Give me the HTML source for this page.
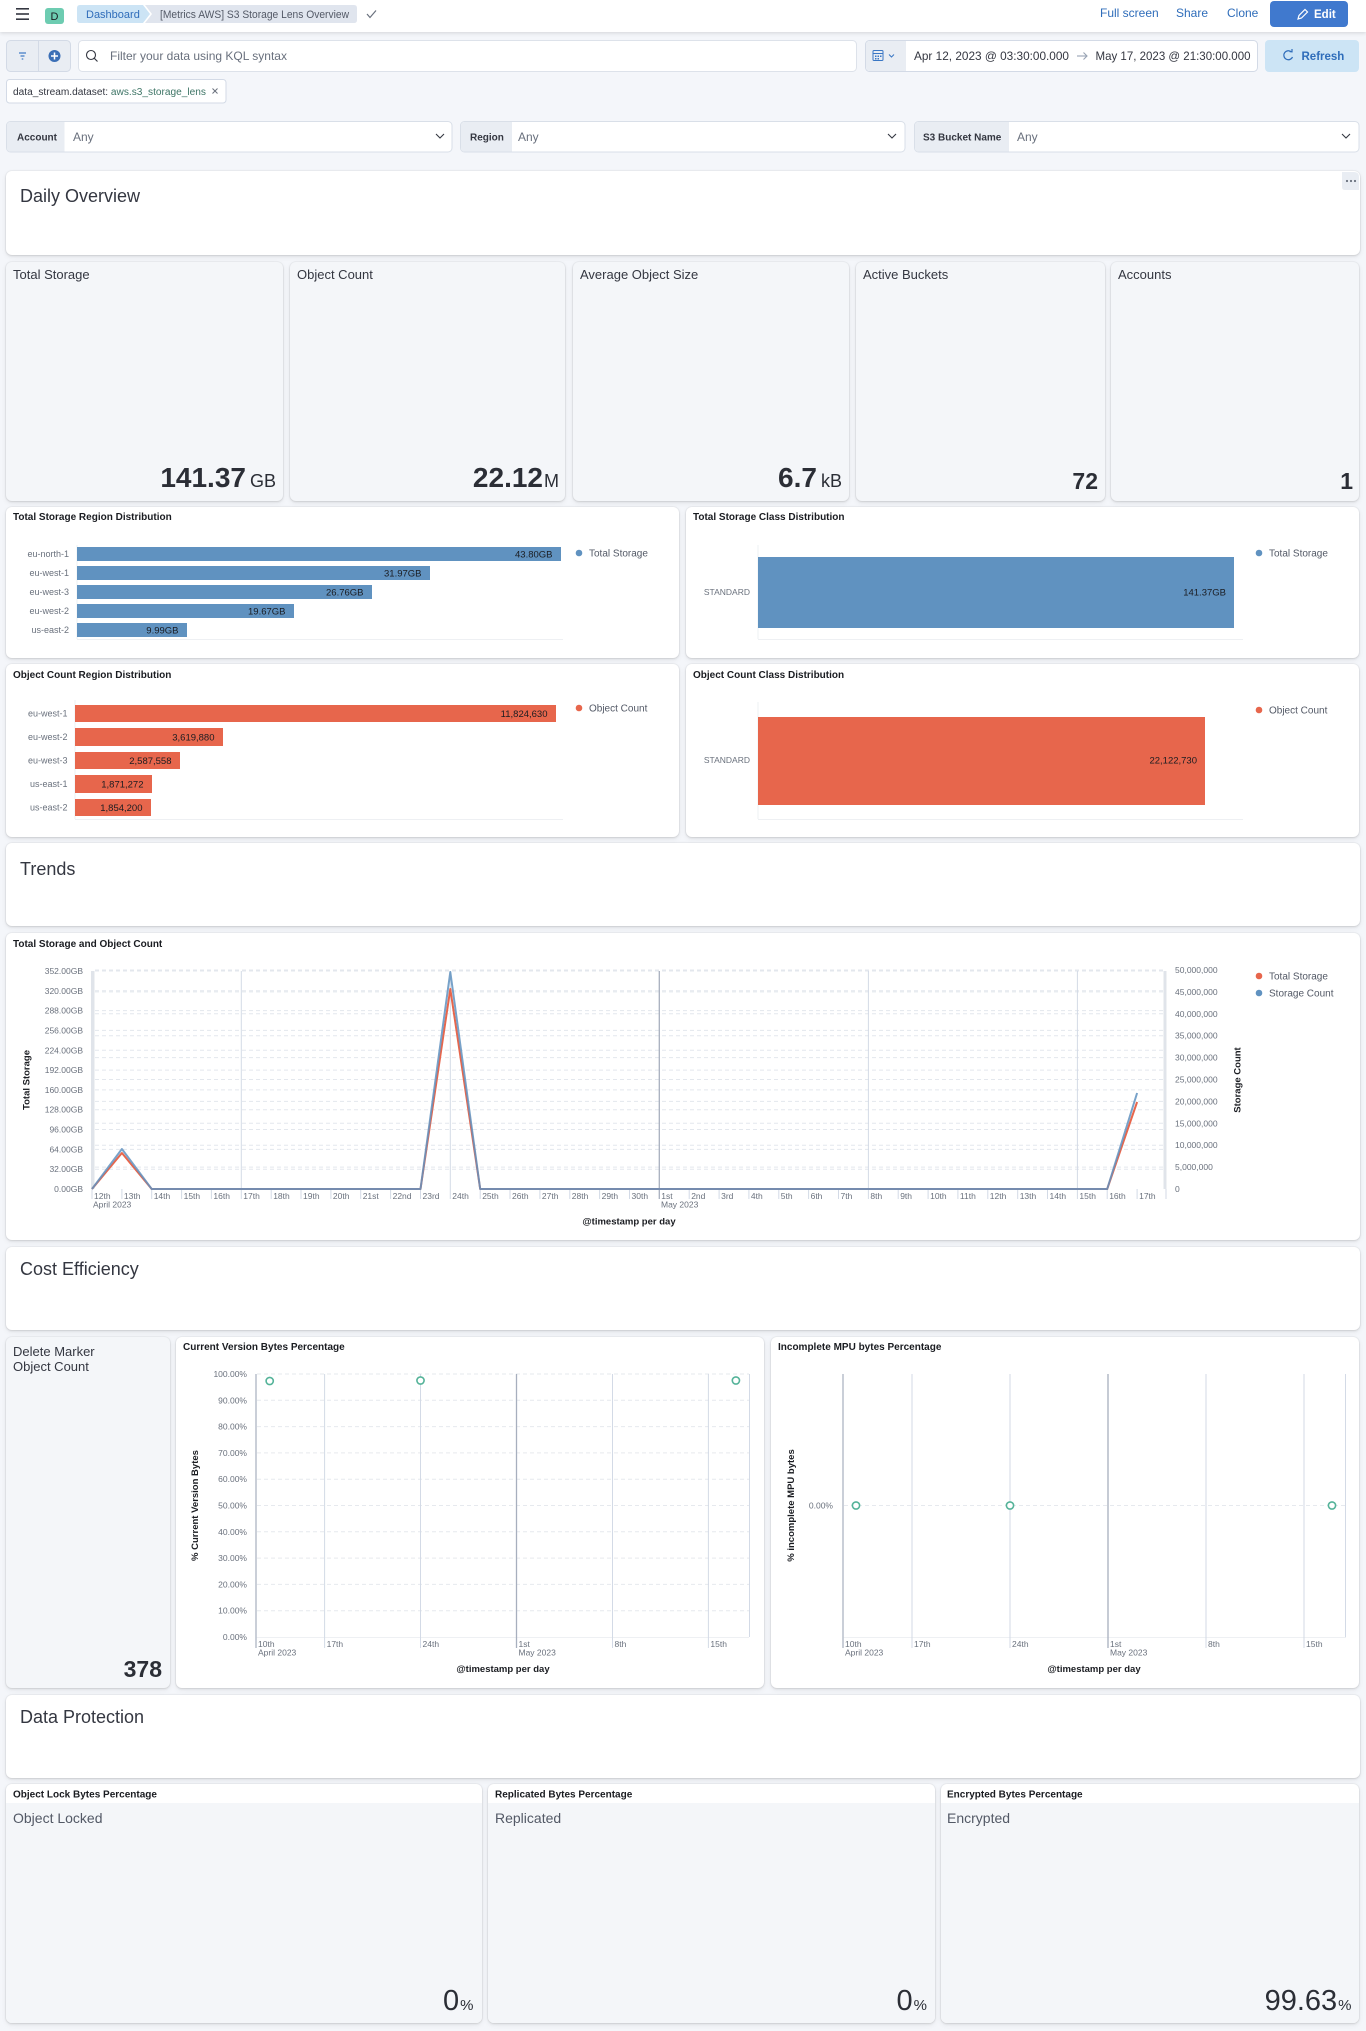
<!DOCTYPE html>
<html><head><meta charset="utf-8">
<style>
*{box-sizing:border-box;margin:0;padding:0}
html,body{width:1366px;height:2031px;overflow:hidden}
body{position:relative;background:#F4F6FA;font-family:"Liberation Sans",Arial,sans-serif;color:#343741}
.hdr{position:absolute;left:0;top:0;width:1366px;height:32px;background:#fff;box-shadow:0 1px 4px rgba(0,0,0,.14)}
.p{position:absolute;border-radius:6px;background:#fff;box-shadow:0 0 0 1px rgba(0,0,0,.03),0 1px 2px rgba(0,0,0,.09),0 2px 6px rgba(0,0,0,.07)}
.g{background:#F4F6F9}
.gb{position:absolute;left:0;right:0;bottom:0;top:19px;background:#F4F6F9;border-radius:0 0 6px 6px}
svg.ov{position:absolute;left:0;top:0}
</style></head><body>
<div class="hdr"></div>

<div class="p" style="left:6px;top:171px;width:1354px;height:84px"></div>
<div class="p g" style="left:6px;top:262px;width:277px;height:239px"></div>
<div class="p g" style="left:290px;top:262px;width:275px;height:239px"></div>
<div class="p g" style="left:573px;top:262px;width:276px;height:239px"></div>
<div class="p g" style="left:856px;top:262px;width:249px;height:239px"></div>
<div class="p g" style="left:1111px;top:262px;width:248px;height:239px"></div>
<div class="p" style="left:6px;top:507px;width:673px;height:151px"></div>
<div class="p" style="left:686px;top:507px;width:673px;height:151px"></div>
<div class="p" style="left:6px;top:664px;width:673px;height:173px"></div>
<div class="p" style="left:686px;top:664px;width:673px;height:173px"></div>
<div class="p" style="left:6px;top:843px;width:1354px;height:83px"></div>
<div class="p" style="left:6px;top:933px;width:1354px;height:307px"></div>
<div class="p" style="left:6px;top:1247px;width:1354px;height:83px"></div>
<div class="p g" style="left:6px;top:1337px;width:164px;height:351px"></div>
<div class="p" style="left:176px;top:1337px;width:588px;height:351px"></div>
<div class="p" style="left:771px;top:1337px;width:588px;height:351px"></div>
<div class="p" style="left:6px;top:1695px;width:1354px;height:83px"></div>
<div class="p" style="left:6px;top:1784px;width:476px;height:239px"><div class="gb"></div></div>
<div class="p" style="left:488px;top:1784px;width:447px;height:239px"><div class="gb"></div></div>
<div class="p" style="left:941px;top:1784px;width:418px;height:239px"><div class="gb"></div></div>

<svg class="ov" width="1366" height="2031" viewBox="0 0 1366 2031" font-family="'Liberation Sans', Arial, sans-serif">
<!-- ===== HEADER ===== -->
<g fill="#343741"><rect x="16" y="8" width="13" height="1.6"/><rect x="16" y="13.2" width="13" height="1.6"/><rect x="16" y="18.4" width="13" height="1.6"/></g>
<rect x="45" y="8" width="19" height="16" rx="3" fill="#6DCCB1"/>
<text x="54.5" y="20" font-size="11" text-anchor="middle" fill="#1a1c21">D</text>
<path d="M145,5 H354 Q357,5 357,8 V20 Q357,23 354,23 H145 L152,14 Z" fill="#E0E5EE"/>
<path d="M80,5 H143 L150,14 L143,23 H80 Q77,23 77,20 V8 Q77,5 80,5 Z" fill="#CCE4F5"/>
<text x="86" y="18" font-size="11" fill="#2F6DBA">Dashboard</text>
<text x="160" y="18" font-size="11" fill="#535966" textLength="189" lengthAdjust="spacingAndGlyphs">[Metrics AWS] S3 Storage Lens Overview</text>
<polyline points="367,14 370,17.5 376,10.5" fill="none" stroke="#69707D" stroke-width="1.2"/>
<text x="1100" y="17" font-size="12" fill="#2F6DBA">Full screen</text>
<text x="1176" y="17" font-size="12" fill="#2F6DBA">Share</text>
<text x="1227" y="17" font-size="12" fill="#2F6DBA">Clone</text>
<rect x="1270" y="1" width="78" height="26" rx="4" fill="#4079CE"/>
<path d="M1298,19 L1299,15.5 L1305,9.5 L1307.5,12 L1301.5,18 Z" fill="none" stroke="#fff" stroke-width="1.2"/>
<text x="1314" y="18" font-size="11.5" font-weight="bold" fill="#fff">Edit</text>

<!-- ===== QUERY BAR ===== -->
<rect x="6.5" y="40.5" width="64" height="31" rx="4" fill="#E9EDF3" stroke="#D3DAE6"/>
<line x1="38.5" y1="41" x2="38.5" y2="71" stroke="#D3DAE6"/>
<g stroke="#3A77C4" stroke-width="1.2"><line x1="19" y1="53" x2="26" y2="53"/><line x1="20.5" y1="56" x2="24.5" y2="56"/><line x1="21.7" y1="59" x2="23.3" y2="59"/></g>
<circle cx="54.5" cy="56" r="6" fill="#3B6FB6"/>
<g stroke="#fff" stroke-width="1.5"><line x1="51" y1="56" x2="58" y2="56"/><line x1="54.5" y1="52.5" x2="54.5" y2="59.5"/></g>
<rect x="78.5" y="40.5" width="778" height="31" rx="4" fill="#fff" stroke="#DDE2EA"/>
<circle cx="91" cy="55" r="4.5" fill="none" stroke="#343741" stroke-width="1.1"/>
<line x1="94.3" y1="58.3" x2="97.5" y2="61.5" stroke="#343741" stroke-width="1.1"/>
<text x="110" y="60" font-size="12" fill="#69707D">Filter your data using KQL syntax</text>

<rect x="865.5" y="40.5" width="392" height="31" rx="4" fill="#fff" stroke="#D3DAE6"/>
<path d="M869.5,41 H906 V71 H869.5 Q866,71 866,67 V45 Q866,41 869.5,41 Z" fill="#E9EDF3"/>
<rect x="873" y="50.5" width="10" height="10" rx="1" fill="none" stroke="#3A77C4"/>
<line x1="873" y1="53.5" x2="883" y2="53.5" stroke="#3A77C4"/>
<g fill="#3A77C4"><rect x="875" y="55.5" width="1.5" height="1.5"/><rect x="877.5" y="55.5" width="1.5" height="1.5"/><rect x="880" y="55.5" width="1.5" height="1.5"/><rect x="875" y="58" width="1.5" height="1.5"/><rect x="877.5" y="58" width="1.5" height="1.5"/></g>
<polyline points="889,54.5 891.5,57 894,54.5" fill="none" stroke="#3A77C4"/>
<text x="914" y="60" font-size="12" fill="#343741" textLength="155" lengthAdjust="spacingAndGlyphs">Apr 12, 2023 @ 03:30:00.000</text>
<g stroke="#98A2B3" stroke-width="1.1" fill="none"><line x1="1077" y1="56" x2="1087" y2="56"/><polyline points="1083.5,52.5 1087,56 1083.5,59.5"/></g>
<text x="1095.5" y="60" font-size="12" fill="#343741" textLength="155" lengthAdjust="spacingAndGlyphs">May 17, 2023 @ 21:30:00.000</text>
<rect x="1265" y="40" width="94" height="32" rx="4" fill="#CCE4F5"/>
<path d="M1291.5,52 A4.5,4.5 0 1 0 1292.5,57" fill="none" stroke="#2F6DBA" stroke-width="1.2"/>
<polyline points="1289.5,51.5 1292,51.8 1292,49" fill="none" stroke="#2F6DBA" stroke-width="1.2"/>
<text x="1301.5" y="60" font-size="11.5" font-weight="bold" fill="#2F6DBA">Refresh</text>

<!-- filter pill -->
<rect x="6.5" y="79.5" width="219.5" height="23.5" rx="3" fill="#fff" stroke="#D3DAE6"/>
<text x="13" y="95" font-size="10" textLength="193" lengthAdjust="spacingAndGlyphs"><tspan fill="#343741">data_stream.dataset: </tspan><tspan fill="#3E7566">aws.s3_storage_lens</tspan></text>
<g stroke="#69707D" stroke-width="1"><line x1="212.5" y1="88.5" x2="217.5" y2="93.5"/><line x1="217.5" y1="88.5" x2="212.5" y2="93.5"/></g>

<!-- controls -->
<rect x="6.5" y="121.5" width="445.5" height="30.5" rx="4" fill="#fff" stroke="#D9DFE8"/>
<path d="M10.5,122 H64.5 V151.5 H10.5 Q7,151.5 7,148 V125.5 Q7,122 10.5,122 Z" fill="#E9EDF3"/>
<text x="17" y="140.5" font-size="10" font-weight="bold" fill="#343741">Account</text>
<text x="73" y="141" font-size="12" fill="#69707D">Any</text>
<polyline points="436,134 440,138 444,134" fill="none" stroke="#343741" stroke-width="1.1"/>
<rect x="460.5" y="121.5" width="444.5" height="30.5" rx="4" fill="#fff" stroke="#D9DFE8"/>
<path d="M464.5,122 H512 V151.5 H464.5 Q461,151.5 461,148 V125.5 Q461,122 464.5,122 Z" fill="#E9EDF3"/>
<text x="470" y="140.5" font-size="10" font-weight="bold" fill="#343741">Region</text>
<text x="518" y="141" font-size="12" fill="#69707D">Any</text>
<polyline points="888,134 892,138 896,134" fill="none" stroke="#343741" stroke-width="1.1"/>
<rect x="914.5" y="121.5" width="444.5" height="30.5" rx="4" fill="#fff" stroke="#D9DFE8"/>
<path d="M918.5,122 H1009 V151.5 H918.5 Q915,151.5 915,148 V125.5 Q915,122 918.5,122 Z" fill="#E9EDF3"/>
<text x="923" y="140.5" font-size="10" font-weight="bold" fill="#343741">S3 Bucket Name</text>
<text x="1017" y="141" font-size="12" fill="#69707D">Any</text>
<polyline points="1342,134 1346,138 1350,134" fill="none" stroke="#343741" stroke-width="1.1"/>

<!-- ===== DAILY OVERVIEW ===== -->
<text x="20" y="202" font-size="18" fill="#343741">Daily Overview</text>
<path d="M1342,172 H1354 Q1359,172 1359,177 V190 H1345 Q1342,190 1342,187 Z" fill="#E9EDF3"/>
<g fill="#69707D"><circle cx="1347" cy="181" r="1.1"/><circle cx="1351" cy="181" r="1.1"/><circle cx="1355" cy="181" r="1.1"/></g>

<g font-size="13" fill="#343741">
<text x="13" y="279">Total Storage</text>
<text x="297" y="279">Object Count</text>
<text x="580" y="279">Average Object Size</text>
<text x="863" y="279">Active Buckets</text>
<text x="1118" y="279">Accounts</text>
</g>
<g fill="#2B2E36">
<text x="276" y="487" text-anchor="end"><tspan font-size="28" font-weight="bold">141.37</tspan><tspan font-size="18" dx="4">GB</tspan></text>
<text x="559" y="487" text-anchor="end"><tspan font-size="28" font-weight="bold">22.12</tspan><tspan font-size="18" dx="1">M</tspan></text>
<text x="842" y="487" text-anchor="end"><tspan font-size="28" font-weight="bold">6.7</tspan><tspan font-size="18" dx="4">kB</tspan></text>
<text x="1098" y="489" text-anchor="end" font-size="23" font-weight="bold">72</text>
<text x="1353" y="489" text-anchor="end" font-size="23" font-weight="bold">1</text>
</g>

<!-- ===== BAR CHARTS ===== -->
<g font-size="10" font-weight="bold" fill="#1a1c21">
<text x="13" y="520">Total Storage Region Distribution</text>
<text x="693" y="520">Total Storage Class Distribution</text>
<text x="13" y="678">Object Count Region Distribution</text>
<text x="693" y="678">Object Count Class Distribution</text>
</g>
<g stroke="#EEF0F3" stroke-width="1">
<line x1="77" y1="545" x2="77" y2="639"/><line x1="77" y1="639.5" x2="563" y2="639.5"/>
<line x1="75" y1="700" x2="75" y2="819"/><line x1="75" y1="819.5" x2="563" y2="819.5"/>
<line x1="758" y1="545" x2="758" y2="639"/><line x1="758" y1="639.5" x2="1243" y2="639.5"/>
<line x1="758" y1="702" x2="758" y2="819"/><line x1="758" y1="819.5" x2="1243" y2="819.5"/>
</g>
<g fill="#6092C0">
<rect x="77" y="547" width="484" height="14"/>
<rect x="77" y="566" width="353" height="14"/>
<rect x="77" y="585" width="295" height="14"/>
<rect x="77" y="604" width="217" height="14"/>
<rect x="77" y="623" width="110" height="14"/>
<rect x="758" y="557" width="476" height="71"/>
</g>
<g fill="#E7664C">
<rect x="75" y="705" width="481" height="17"/>
<rect x="75" y="728" width="148" height="18"/>
<rect x="75" y="752" width="105" height="17"/>
<rect x="75" y="775" width="77" height="18"/>
<rect x="75" y="799" width="76" height="17"/>
<rect x="758" y="717" width="447" height="88"/>
</g>
<g font-size="9" fill="#6A717D" text-anchor="end">
<text x="69" y="557">eu-north-1</text>
<text x="69" y="576">eu-west-1</text>
<text x="69" y="595">eu-west-3</text>
<text x="69" y="614">eu-west-2</text>
<text x="69" y="633">us-east-2</text>
<text x="67.5" y="716.5">eu-west-1</text>
<text x="67.5" y="740">eu-west-2</text>
<text x="67.5" y="763.5">eu-west-3</text>
<text x="67.5" y="787">us-east-1</text>
<text x="67.5" y="810.5">us-east-2</text>
<text x="750" y="595" font-size="8.5">STANDARD</text>
<text x="750" y="763" font-size="8.5">STANDARD</text>
</g>
<g font-size="9.5" fill="#1a1c21" text-anchor="end">
<text x="552.5" y="557.5">43.80GB</text>
<text x="421.5" y="576.5">31.97GB</text>
<text x="363.5" y="595.5">26.76GB</text>
<text x="285.5" y="614.5">19.67GB</text>
<text x="178.5" y="633.5">9.99GB</text>
<text x="547.5" y="717">11,824,630</text>
<text x="214.5" y="740.5">3,619,880</text>
<text x="171.5" y="764">2,587,558</text>
<text x="143.5" y="787.5">1,871,272</text>
<text x="142.5" y="811">1,854,200</text>
<text x="1226" y="595.5">141.37GB</text>
<text x="1197" y="763.5">22,122,730</text>
</g>
<g font-size="10" fill="#535966">
<circle cx="579" cy="553" r="3.3" fill="#6092C0"/><text x="589" y="556.5">Total Storage</text>
<circle cx="579" cy="708" r="3.3" fill="#E7664C"/><text x="589" y="711.5">Object Count</text>
<circle cx="1259" cy="553" r="3.3" fill="#6092C0"/><text x="1269" y="556.5">Total Storage</text>
<circle cx="1259" cy="710" r="3.3" fill="#E7664C"/><text x="1269" y="713.5">Object Count</text>
</g>

<!-- ===== TRENDS ===== -->
<text x="20" y="875" font-size="18" fill="#343741">Trends</text>
<text x="13" y="947" font-size="10" font-weight="bold" fill="#1a1c21">Total Storage and Object Count</text>

<g stroke="#E3E7ED" stroke-width="1" stroke-dasharray="4 3">
<line x1="95" y1="1169.2" x2="1163" y2="1169.2"/><line x1="95" y1="1149.4" x2="1163" y2="1149.4"/>
<line x1="95" y1="1129.5" x2="1163" y2="1129.5"/><line x1="95" y1="1109.7" x2="1163" y2="1109.7"/>
<line x1="95" y1="1089.9" x2="1163" y2="1089.9"/><line x1="95" y1="1070.1" x2="1163" y2="1070.1"/>
<line x1="95" y1="1050.3" x2="1163" y2="1050.3"/><line x1="95" y1="1030.4" x2="1163" y2="1030.4"/>
<line x1="95" y1="1010.6" x2="1163" y2="1010.6"/><line x1="95" y1="990.8" x2="1163" y2="990.8"/>
<line x1="95" y1="971" x2="1163" y2="971"/>
<line x1="95" y1="1167.1" x2="1163" y2="1167.1"/><line x1="95" y1="1145.2" x2="1163" y2="1145.2"/>
<line x1="95" y1="1123.3" x2="1163" y2="1123.3"/><line x1="95" y1="1101.4" x2="1163" y2="1101.4"/>
<line x1="95" y1="1079.5" x2="1163" y2="1079.5"/><line x1="95" y1="1057.6" x2="1163" y2="1057.6"/>
<line x1="95" y1="1035.7" x2="1163" y2="1035.7"/><line x1="95" y1="1013.8" x2="1163" y2="1013.8"/>
<line x1="95" y1="991.9" x2="1163" y2="991.9"/><line x1="95" y1="970" x2="1163" y2="970"/>
</g>
<g stroke="#D3DAE6" stroke-width="1">
<line x1="241.3" y1="971" x2="241.3" y2="1199"/>
<line x1="450.3" y1="971" x2="450.3" y2="1199"/>
<line x1="868.4" y1="971" x2="868.4" y2="1199"/>
<line x1="1077.4" y1="971" x2="1077.4" y2="1199"/>
</g>
<line x1="659.3" y1="971" x2="659.3" y2="1199" stroke="#A7AFBE" stroke-width="1.3"/>
<rect x="91" y="971" width="3.5" height="218" fill="#E0E4EA"/>
<rect x="1163.5" y="971" width="3" height="218" fill="#E0E4EA"/>
<path stroke="#D3DAE6" stroke-width="1" d="M92,1189v10M121.9,1189v10M151.7,1189v10M181.6,1189v10M211.4,1189v10M271.2,1189v10M301,1189v10M330.9,1189v10M360.7,1189v10M390.6,1189v10M420.5,1189v10M480.2,1189v10M510,1189v10M539.9,1189v10M569.8,1189v10M599.6,1189v10M629.5,1189v10M689.2,1189v10M719.1,1189v10M748.9,1189v10M778.8,1189v10M808.6,1189v10M838.5,1189v10M898.2,1189v10M928.1,1189v10M957.9,1189v10M987.8,1189v10M1017.7,1189v10M1047.5,1189v10M1107.2,1189v10M1137.1,1189v10M1166,1189v10"/>
<g font-size="8.5" fill="#6A717D">
<text x="94" y="1199">12th</text><text x="123.9" y="1199">13th</text><text x="153.7" y="1199">14th</text>
<text x="183.6" y="1199">15th</text><text x="213.4" y="1199">16th</text><text x="243.3" y="1199">17th</text>
<text x="273.2" y="1199">18th</text><text x="303" y="1199">19th</text><text x="332.9" y="1199">20th</text>
<text x="362.7" y="1199">21st</text><text x="392.6" y="1199">22nd</text><text x="422.5" y="1199">23rd</text>
<text x="452.3" y="1199">24th</text><text x="482.2" y="1199">25th</text><text x="512" y="1199">26th</text>
<text x="541.9" y="1199">27th</text><text x="571.8" y="1199">28th</text><text x="601.6" y="1199">29th</text>
<text x="631.5" y="1199">30th</text><text x="661.3" y="1199">1st</text><text x="691.2" y="1199">2nd</text>
<text x="721.1" y="1199">3rd</text><text x="750.9" y="1199">4th</text><text x="780.8" y="1199">5th</text>
<text x="810.6" y="1199">6th</text><text x="840.5" y="1199">7th</text><text x="870.4" y="1199">8th</text>
<text x="900.2" y="1199">9th</text><text x="930.1" y="1199">10th</text><text x="959.9" y="1199">11th</text>
<text x="989.8" y="1199">12th</text><text x="1019.7" y="1199">13th</text><text x="1049.5" y="1199">14th</text>
<text x="1079.4" y="1199">15th</text><text x="1109.2" y="1199">16th</text><text x="1139.1" y="1199">17th</text>
<text x="93" y="1207.5">April 2023</text><text x="661" y="1207.5">May 2023</text>
</g>
<g font-size="8.5" fill="#6A717D" text-anchor="end">
<text x="83" y="1192">0.00GB</text><text x="83" y="1172.2">32.00GB</text><text x="83" y="1152.4">64.00GB</text>
<text x="83" y="1132.5">96.00GB</text><text x="83" y="1112.7">128.00GB</text><text x="83" y="1092.9">160.00GB</text>
<text x="83" y="1073.1">192.00GB</text><text x="83" y="1053.3">224.00GB</text><text x="83" y="1033.4">256.00GB</text>
<text x="83" y="1013.6">288.00GB</text><text x="83" y="993.8">320.00GB</text><text x="83" y="974">352.00GB</text>
</g>
<g font-size="8.5" fill="#6A717D">
<text x="1175" y="1192">0</text><text x="1175" y="1170.1">5,000,000</text><text x="1175" y="1148.2">10,000,000</text>
<text x="1175" y="1126.3">15,000,000</text><text x="1175" y="1104.4">20,000,000</text><text x="1175" y="1082.5">25,000,000</text>
<text x="1175" y="1060.6">30,000,000</text><text x="1175" y="1038.7">35,000,000</text><text x="1175" y="1016.8">40,000,000</text>
<text x="1175" y="994.9">45,000,000</text><text x="1175" y="973">50,000,000</text>
</g>
<path d="M92,1189 L121.9,1153 L151.7,1189 L420.5,1189 L450.3,989 L480.2,1189 L1107.2,1189 L1137.1,1102" fill="none" stroke="#E7664C" stroke-width="2" stroke-linejoin="round"/>
<path d="M92,1189 L121.9,1149 L151.7,1189 L420.5,1189 L450.3,972 L480.2,1189 L1107.2,1189 L1137.1,1093" fill="none" stroke="#6092C0" stroke-width="2" stroke-opacity="0.85" stroke-linejoin="round"/>
<text transform="translate(29.5,1080) rotate(-90)" text-anchor="middle" font-size="9.5" font-weight="bold" fill="#1a1c21">Total Storage</text>
<text transform="translate(1240.5,1080) rotate(-90)" text-anchor="middle" font-size="9.5" font-weight="bold" fill="#1a1c21">Storage Count</text>
<text x="629" y="1224.5" text-anchor="middle" font-size="9.5" font-weight="bold" fill="#1a1c21">@timestamp per day</text>
<g font-size="10" fill="#535966">
<circle cx="1259" cy="976" r="3.3" fill="#E7664C"/><text x="1269" y="979.5">Total Storage</text>
<circle cx="1259" cy="993" r="3.3" fill="#6092C0"/><text x="1269" y="996.5">Storage Count</text>
</g>

<!-- ===== COST EFFICIENCY ===== -->
<text x="20" y="1275" font-size="18" fill="#343741">Cost Efficiency</text>
<g font-size="13" fill="#343741"><text x="13" y="1356">Delete Marker</text><text x="13" y="1371">Object Count</text></g>
<text x="162" y="1677" text-anchor="end" font-size="23" font-weight="bold" fill="#2B2E36">378</text>

<g font-size="10" font-weight="bold" fill="#1a1c21">
<text x="183" y="1350">Current Version Bytes Percentage</text>
<text x="778" y="1350">Incomplete MPU bytes Percentage</text>
</g>
<!-- current version chart -->
<g stroke="#E6E9EE" stroke-width="1" stroke-dasharray="4 3">
<line x1="257" y1="1374" x2="749" y2="1374"/><line x1="257" y1="1400.3" x2="749" y2="1400.3"/>
<line x1="257" y1="1426.6" x2="749" y2="1426.6"/><line x1="257" y1="1452.9" x2="749" y2="1452.9"/>
<line x1="257" y1="1479.2" x2="749" y2="1479.2"/><line x1="257" y1="1505.5" x2="749" y2="1505.5"/>
<line x1="257" y1="1531.8" x2="749" y2="1531.8"/><line x1="257" y1="1558.1" x2="749" y2="1558.1"/>
<line x1="257" y1="1584.4" x2="749" y2="1584.4"/><line x1="257" y1="1610.7" x2="749" y2="1610.7"/>
</g>
<line x1="256" y1="1637.5" x2="749" y2="1637.5" stroke="#EEF0F3"/>
<g stroke="#D3DAE6" stroke-width="1">
<line x1="324.6" y1="1374" x2="324.6" y2="1648"/><line x1="420.5" y1="1374" x2="420.5" y2="1648"/>
<line x1="612.5" y1="1374" x2="612.5" y2="1648"/><line x1="708.4" y1="1374" x2="708.4" y2="1648"/>
<line x1="749.5" y1="1374" x2="749.5" y2="1637"/>
</g>
<line x1="516.5" y1="1374" x2="516.5" y2="1648" stroke="#A7AFBE" stroke-width="1.3"/>
<line x1="256" y1="1374" x2="256" y2="1648" stroke="#B8BFCB" stroke-width="1.5"/>
<g font-size="8.5" fill="#6A717D" text-anchor="end">
<text x="247" y="1640">0.00%</text><text x="247" y="1613.7">10.00%</text><text x="247" y="1587.4">20.00%</text>
<text x="247" y="1561.1">30.00%</text><text x="247" y="1534.8">40.00%</text><text x="247" y="1508.5">50.00%</text>
<text x="247" y="1482.2">60.00%</text><text x="247" y="1455.9">70.00%</text><text x="247" y="1429.6">80.00%</text>
<text x="247" y="1403.3">90.00%</text><text x="247" y="1377">100.00%</text>
</g>
<g font-size="8.5" fill="#6A717D">
<text x="258" y="1647">10th</text><text x="258" y="1655.5">April 2023</text>
<text x="326.6" y="1647">17th</text><text x="422.5" y="1647">24th</text>
<text x="518.5" y="1647">1st</text><text x="518.5" y="1655.5">May 2023</text>
<text x="614.5" y="1647">8th</text><text x="710.4" y="1647">15th</text>
</g>
<g fill="#fff" stroke="#54B399" stroke-width="1.6">
<circle cx="269.7" cy="1381" r="3.6"/><circle cx="420.5" cy="1380.5" r="3.6"/><circle cx="735.9" cy="1380.5" r="3.6"/>
</g>
<text transform="translate(198,1505.5) rotate(-90)" text-anchor="middle" font-size="9.5" font-weight="bold" fill="#1a1c21">% Current Version Bytes</text>
<text x="503" y="1672" text-anchor="middle" font-size="9.5" font-weight="bold" fill="#1a1c21">@timestamp per day</text>

<!-- incomplete mpu chart -->
<line x1="844" y1="1505.5" x2="1345" y2="1505.5" stroke="#E6E9EE" stroke-dasharray="4 3"/>
<line x1="843" y1="1637.5" x2="1346" y2="1637.5" stroke="#EEF0F3"/>
<g stroke="#D3DAE6" stroke-width="1">
<line x1="912" y1="1374" x2="912" y2="1648"/><line x1="1010" y1="1374" x2="1010" y2="1648"/>
<line x1="1206" y1="1374" x2="1206" y2="1648"/><line x1="1304" y1="1374" x2="1304" y2="1648"/>
<line x1="1345.5" y1="1374" x2="1345.5" y2="1637"/>
</g>
<line x1="1108" y1="1374" x2="1108" y2="1648" stroke="#A7AFBE" stroke-width="1.3"/>
<line x1="843" y1="1374" x2="843" y2="1648" stroke="#B8BFCB" stroke-width="1.5"/>
<text x="833" y="1508.5" font-size="8.5" fill="#6A717D" text-anchor="end">0.00%</text>
<g font-size="8.5" fill="#6A717D">
<text x="845" y="1647">10th</text><text x="845" y="1655.5">April 2023</text>
<text x="914" y="1647">17th</text><text x="1012" y="1647">24th</text>
<text x="1110" y="1647">1st</text><text x="1110" y="1655.5">May 2023</text>
<text x="1208" y="1647">8th</text><text x="1306" y="1647">15th</text>
</g>
<g fill="#fff" stroke="#54B399" stroke-width="1.6">
<circle cx="856" cy="1505.5" r="3.6"/><circle cx="1010" cy="1505.5" r="3.6"/><circle cx="1332" cy="1505.5" r="3.6"/>
</g>
<text transform="translate(794,1505.5) rotate(-90)" text-anchor="middle" font-size="9.5" font-weight="bold" fill="#1a1c21">% incomplete MPU bytes</text>
<text x="1094" y="1672" text-anchor="middle" font-size="9.5" font-weight="bold" fill="#1a1c21">@timestamp per day</text>

<!-- ===== DATA PROTECTION ===== -->
<text x="20" y="1723" font-size="18" fill="#343741">Data Protection</text>
<g font-size="10" font-weight="bold" fill="#1a1c21">
<text x="13" y="1797.5">Object Lock Bytes Percentage</text>
<text x="495" y="1797.5">Replicated Bytes Percentage</text>
<text x="947" y="1797.5">Encrypted Bytes Percentage</text>
</g>
<g font-size="14" fill="#535966">
<text x="13" y="1823">Object Locked</text>
<text x="495" y="1823">Replicated</text>
<text x="947" y="1823">Encrypted</text>
</g>
<g fill="#2B2E36">
<text x="473.5" y="2010" text-anchor="end"><tspan font-size="29">0</tspan><tspan font-size="15" dx="1">%</tspan></text>
<text x="927" y="2010" text-anchor="end"><tspan font-size="29">0</tspan><tspan font-size="15" dx="1">%</tspan></text>
<text x="1351.5" y="2010" text-anchor="end"><tspan font-size="29">99.63</tspan><tspan font-size="15" dx="1">%</tspan></text>
</g>
</svg>
</body></html>
